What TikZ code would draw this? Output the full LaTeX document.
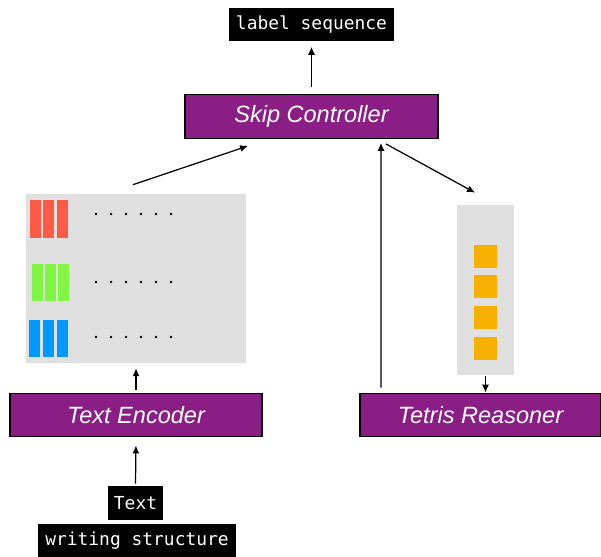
\documentclass[tikz,border=0pt]{standalone}
\usepackage{fontspec}
\setsansfont{Liberation Sans}
\setmonofont{DejaVu Sans Mono}
\usetikzlibrary{arrows.meta}
\definecolor{modpurple}{RGB}{139,30,133}
\definecolor{panelgray}{RGB}{224,224,224}
\definecolor{barred}{RGB}{255,90,70}
\definecolor{bargreen}{RGB}{128,245,66}
\definecolor{barblue}{RGB}{0,153,255}
\definecolor{cellorange}{RGB}{248,176,0}
\tikzset{
  module/.style={draw=black,line width=0.8pt,fill=modpurple,text=white,
    font=\sffamily\itshape\fontsize{13.4}{16}\selectfont,minimum height=0.87cm},
  tag/.style={fill=black,text=white,font=\ttfamily\fontsize{10.2}{12}\selectfont,
    inner sep=0pt,minimum height=0.68cm},
  panel/.style={fill=panelgray,inner sep=0pt},
  bar/.style={inner sep=0pt,minimum width=0.22cm,minimum height=0.76cm},
  cell/.style={fill=cellorange,inner sep=0pt,minimum size=0.46cm},
  flow/.style={line width=0.7pt,-{Latex[length=4.5pt,width=4pt]}}
}

\begin{document}
\begin{tikzpicture}[x=0.02cm,y=-0.02cm]
\useasboundingbox (0,0) rectangle (601,557);
% boxes
\draw (311.5,24.5) node[tag,minimum width=3.3cm](label) {label sequence};
\draw (311.5,116.5) node[module,minimum width=5.06cm](skip) {Skip Controller};
\draw (136,415) node[module,minimum width=5.04cm](enc) {Text Encoder};
\draw (480.5,415) node[module,minimum width=4.82cm](tetris) {Tetris Reasoner};
\draw (135.5,503) node[tag,minimum width=1.1cm](textin) {Text};
\draw (137,540.5) node[tag,minimum width=3.96cm](writing) {writing structure};
% encoder output
\draw (136,278.5) node[panel,minimum width=4.4cm,minimum height=3.38cm](leftpanel) {};
\draw (35.5,219) node[bar,fill=barred](redA) {};
\draw (48.5,219) node[bar,fill=barred](redB) {};
\draw (62.5,219) node[bar,fill=barred](redC) {};
\draw (37.5,282.5) node[bar,fill=bargreen](greenA) {};
\draw (50.5,282.5) node[bar,fill=bargreen](greenB) {};
\draw (63.5,282.5) node[bar,fill=bargreen](greenC) {};
\draw (34.5,338.5) node[bar,fill=barblue](blueA) {};
\draw (48.5,338.5) node[bar,fill=barblue](blueB) {};
\draw (62,338.5) node[bar,fill=barblue](blueC) {};
\foreach \row in {214,282,337}
  \foreach \col in {96,111,126,141,156,171}
    \fill (\col,\row) circle[radius=0.85pt];
% reasoner memory
\draw (485.5,290) node[panel,minimum width=1.14cm,minimum height=3.4cm](rightpanel) {};
\draw (485.5,256.5) node[cell](cellA) {};
\draw (485.5,286.5) node[cell](cellB) {};
\draw (485.5,317.5) node[cell](cellC) {};
\draw (485,348.5) node[cell](cellD) {};
% arrows
\draw[flow,shorten <=0.14cm,shorten >=0.1cm] (skip) -- (label);
\draw[flow] ([shift={(-3,-9)}]leftpanel.north) -- ([shift={(-63.5,7)}]skip.south);
\draw[flow] ([shift={(74.5,5)}]skip.south) -- ([shift={(-10.5,-12)}]rightpanel.north);
\draw[flow] ([shift={(-99.5,-5)}]tetris.north) -- ([shift={(69.5,4)}]skip.south);
\draw[flow,shorten <=0.02cm] (rightpanel.south) -- (rightpanel.south |- tetris.north);
\draw[flow,shorten <=0.06cm,shorten >=0.1cm] (enc.north) -- (leftpanel.south);
\draw[flow,shorten <=0.04cm,shorten >=0.16cm] (textin.north) -- (enc.south);
\end{tikzpicture}
\end{document}
